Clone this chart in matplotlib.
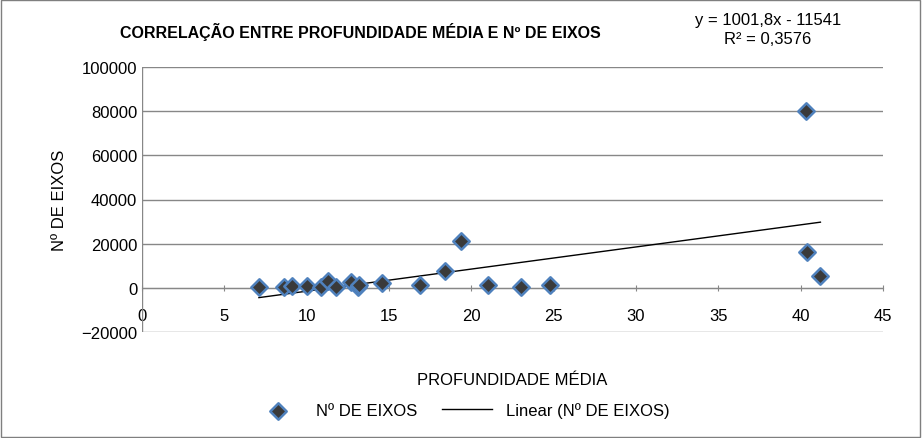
import matplotlib.pyplot as plt
import numpy as np

prof = [7.1, 8.6, 9.1, 10.0, 10.9, 11.3, 11.8, 12.7, 13.1, 13.2, 14.6, 16.9, 18.4, 19.4, 21.0, 23.0, 24.8, 40.3, 40.4, 41.2]
eixos = [600, 200, 1000, 1000, 500, 2900, 500, 2500, 200, 1500, 2200, 1100, 7800, 21000, 1100, 300, 1500, 80000, 16300, 5400]
slope, intercept = 1001.8, -11541

plt.rcParams['font.family'] = ['Liberation Sans', 'DejaVu Sans']
fig = plt.figure(figsize=(9.22, 4.39), dpi=100)
fig.patches.append(plt.Rectangle((0.001, 0.002), 0.997, 0.995, transform=fig.transFigure,
                                 fill=False, edgecolor='#7f7f7f', linewidth=1))
ax = fig.add_axes([142/922, 1-333/439, (883-142)/922, (333-68)/439])

ax.grid(axis='y', color='#878787', linewidth=1)
ax.set_axisbelow(True)
xs = np.array([min(prof), max(prof)])
ax.plot(xs, slope*xs + intercept, color='black', linewidth=1, label='Linear (Nº DE EIXOS)')
ax.scatter(prof, eixos, marker='D', s=70, color='#3a3a3a', edgecolors='#4f81bd',
           linewidths=1.8, zorder=3, label='Nº DE EIXOS')

ax.set_xlim(0, 45)
ax.set_ylim(-20000, 100000)
ax.set_xticks(range(0, 46, 5))
ax.set_yticks(range(-20000, 100001, 20000))
ax.tick_params(labelsize=12, length=5, color='#878787')
for s in ['top', 'right', 'left']:
    ax.spines[s].set_visible(False)
ax.spines['bottom'].set_position(('data', 0))
ax.spines['bottom'].set_color('#878787')
ax.tick_params(axis='x', direction='inout', pad=12)
ax.tick_params(axis='y', length=0)
ax.axvline(0, color='#878787', linewidth=1)

ax.set_ylabel('Nº DE EIXOS', fontsize=12, labelpad=10)
fig.text((142+883)/2/922, 1-381/439, 'PROFUNDIDADE MÉDIA', fontsize=12, ha='center', va='center')
fig.text(120/922, 1-32/439, 'CORRELAÇÃO ENTRE PROFUNDIDADE MÉDIA E Nº DE EIXOS',
         fontsize=11.5, fontweight='bold', va='center')
fig.text(768/922, 1-30/439, 'y = 1001,8x - 11541\nR² = 0,3576', fontsize=12,
         ha='center', va='center', linespacing=1.3)

h, l = ax.get_legend_handles_labels()
fig.legend(h[::-1], l[::-1], loc='center', bbox_to_anchor=(0.5, 1-411/439), ncol=2,
           frameon=False, fontsize=12, handlelength=3, columnspacing=1.5)
fig.savefig('out.png', dpi=100)
